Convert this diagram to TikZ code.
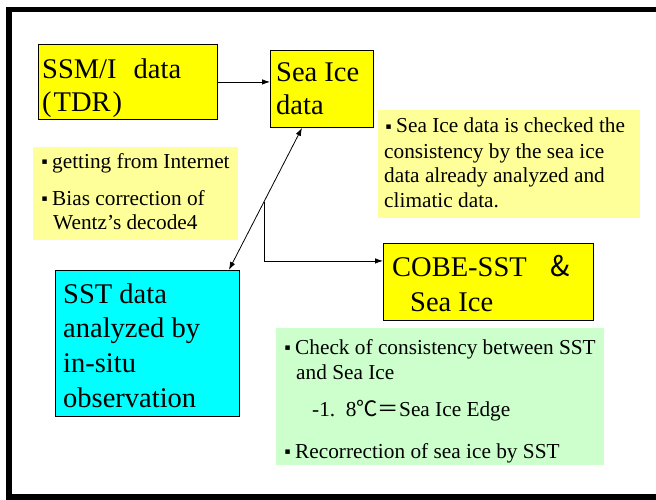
\documentclass[tikz,border=0pt]{standalone}
\usepackage{fontspec}
\setmainfont{Liberation Serif}
\newfontfamily\cjk{Noto Sans CJK JP}
\newfontfamily\symfont{DejaVu Sans}
\usetikzlibrary{arrows.meta,calc}
% stack of left-aligned lines; the baseline is that of the first line
\newcommand\linestack[1]{\vtop{\halign{##\hfil\cr#1\crcr}}}
% bullet mark: a small square, set in its own slot
\newcommand\bul{\makebox[12pt][l]{\hspace{1.5pt}\raisebox{3.5pt}{\fontsize{9}{9}\selectfont\symfont ▪}}}
\definecolor{boxyellow}{HTML}{FFFF00}
\definecolor{noteyellow}{HTML}{FFFF99}
\definecolor{boxcyan}{HTML}{00FFFF}
\definecolor{notegreen}{HTML}{CCFFCC}
\tikzset{
  box/.style={draw=black, line width=0.9pt, rectangle, inner sep=0pt, anchor=north west},
  note/.style={draw=none, rectangle, inner sep=0pt, anchor=north west},
  txt/.style={inner sep=0pt, anchor=base west},
  bigtxt/.style={txt, font=\fontsize{28.5}{33}\selectfont},
  smalltxt/.style={txt, font=\fontsize{21.3}{25}\selectfont},
  conn/.style={line width=0.8pt, black},
  tip/.style={-{Latex[length=8pt,width=5.5pt]}},
  tips/.style={{Latex[length=8pt,width=5.5pt]}-{Latex[length=8pt,width=5.5pt]}}
}
\begin{document}
\begin{tikzpicture}[x=1pt,y=-1pt]
\useasboundingbox (0,0) rectangle (656,500);
\fill[white] (0,0) rectangle (656,500);
% heavy frame round the slide (its right side runs off the page)
\fill[black] (6,7) rectangle (656,12);
\fill[black] (6,7) rectangle (12,500);
\fill[black] (6,494) rectangle (656,500);

% boxes
\node[box, fill=boxyellow, minimum width=179pt, minimum height=75pt] (ssmi) at (38,44) {};
\node[box, fill=boxyellow, minimum width=103pt, minimum height=77pt] (seaice) at (270,50) {};
\node[note, fill=noteyellow, minimum width=262pt, minimum height=108pt] (check) at (378,110) {};
\node[note, fill=noteyellow, minimum width=205pt, minimum height=93pt] (inet) at (33,147) {};
\node[box, fill=boxcyan, minimum width=184pt, minimum height=146pt] (sst) at (55,270) {};
\node[box, fill=boxyellow, minimum width=210pt, minimum height=77pt] (cobe) at (383,243) {};
\node[note, fill=notegreen, minimum width=328pt, minimum height=137pt] (consist) at (276,328) {};

% texts
\node[bigtxt] (ssmitxt) at (42,79) {\linestack{SSM/I\hspace{0.6em}data\cr (\hspace{2pt}TDR\hspace{2pt})}};
\node[bigtxt] (seaicetxt) at (276,82) {\linestack{Sea Ice\cr data}};
\node[bigtxt, font=\fontsize{28.5}{34.7}\selectfont] (ssttxt) at (63,303) {\linestack{SST data\cr analyzed by\cr in-situ\cr observation}};
\node[bigtxt, font=\fontsize{28.5}{35}\selectfont] (cobetxt) at (392,276) {\linestack{COBE-SST\hspace{24pt}{\cjk \&}\cr \hspace{18pt}Sea Ice}};
\node[smalltxt] (checktxt) at (384,133) {\linestack{\bul Sea Ice data is checked the\cr consistency by the sea ice\cr data already analyzed and\cr climatic data.}};
\node[smalltxt] (inettxt) at (40,168) {\linestack{\bul getting from Internet\cr\noalign{\vskip 12pt}
  \bul Bias correction of\cr \hspace{13pt}Wentz's decode4}};
\node[smalltxt] (consisttxt) at (283,354) {\linestack{\bul Check of consistency between SST\cr \hspace{13pt}and Sea Ice\cr\noalign{\vskip 12pt}
  \hspace{29pt}-1.\ \ 8{\cjk ℃＝}Sea Ice Edge\cr\noalign{\vskip 17pt}
  \bul Recorrection of sea ice by SST}};

% connectors
\draw[conn, tip] (ssmi.east) -- (ssmi.east -| seaice.west);
\coordinate (dtop) at ([xshift=32pt]seaice.south west);
\coordinate (dbot) at ([xshift=-11pt]sst.north east);
\draw[conn, tips] (dtop) -- (dbot);
\coordinate (split) at ($(dtop)!0.52!(dbot)$);
\coordinate (cobein) at ([yshift=21pt]cobe.west);
\draw[conn, tip] (split) |- (cobein);
\end{tikzpicture}
\end{document}
